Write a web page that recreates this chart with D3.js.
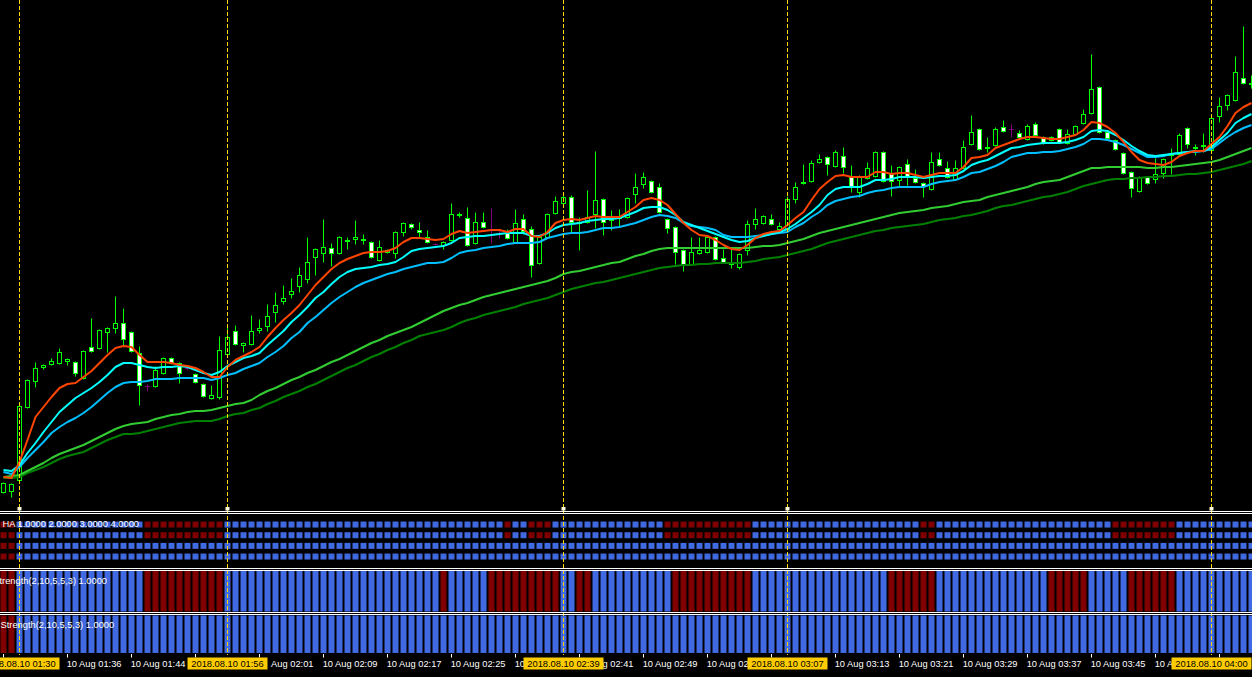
<!DOCTYPE html>
<html><head><meta charset="utf-8">
<script src="https://cdn.jsdelivr.net/npm/d3@7"></script>
<style>html,body{margin:0;padding:0;background:#000;overflow:hidden}</style>
</head><body>
<svg id="c" width="1252" height="677"></svg>
<script>
// ---- data (1-minute bars, 10 Aug 2018) ----
const openP = [5.508,5.509,5.520,5.593,5.619,5.633,5.636,5.637,5.639,5.638,
5.622,5.653,5.652,5.668,5.672,5.677,5.668,5.647,5.614,5.614,
5.627,5.642,5.637,5.632,5.626,5.616,5.602,5.603,5.646,5.669,
5.655,5.656,5.670,5.674,5.688,5.699,5.706,5.714,5.721,5.743,
5.747,5.752,5.747,5.759,5.761,5.760,5.758,5.740,5.748,5.747,
5.768,5.776,5.770,5.763,5.756,5.755,5.760,5.785,5.782,5.757,
5.778,5.770,5.766,5.767,5.758,5.781,5.771,5.737,5.763,5.787,
5.797,5.803,5.777,5.778,5.786,5.801,5.780,5.782,5.783,5.806,
5.816,5.819,5.813,5.781,5.773,5.750,5.736,5.747,5.748,5.763,
5.742,5.736,5.733,5.750,5.776,5.777,5.781,5.771,5.771,5.801,
5.817,5.819,5.838,5.843,5.834,5.844,5.824,5.808,5.822,5.824,
5.848,5.827,5.820,5.836,5.822,5.817,5.811,5.841,5.832,5.821,
5.832,5.856,5.871,5.852,5.855,5.873,5.871,5.867,5.861,5.876,
5.863,5.860,5.871,5.857,5.866,5.877,5.887,5.913,5.868,5.860,
5.847,5.828,5.809,5.823,5.821,5.827,5.845,5.846,5.872,5.852,
5.854,5.850,5.884,5.895,5.900,5.922,5.916];
const highP = [5.518,5.517,5.595,5.621,5.638,5.636,5.642,5.652,5.642,5.639,
5.650,5.682,5.671,5.673,5.704,5.692,5.669,5.654,5.616,5.634,
5.643,5.643,5.638,5.634,5.627,5.617,5.615,5.664,5.673,5.675,
5.658,5.685,5.681,5.696,5.708,5.715,5.722,5.733,5.763,5.752,
5.781,5.757,5.764,5.763,5.780,5.766,5.759,5.760,5.751,5.769,
5.778,5.777,5.778,5.770,5.757,5.759,5.797,5.788,5.793,5.788,
5.788,5.792,5.770,5.771,5.791,5.786,5.774,5.764,5.787,5.804,
5.808,5.805,5.783,5.810,5.849,5.802,5.790,5.791,5.803,5.827,
5.828,5.820,5.817,5.782,5.774,5.751,5.763,5.763,5.764,5.764,
5.751,5.753,5.747,5.780,5.792,5.785,5.786,5.778,5.804,5.818,
5.836,5.840,5.846,5.844,5.850,5.853,5.835,5.825,5.838,5.849,
5.849,5.835,5.834,5.841,5.831,5.818,5.848,5.848,5.839,5.840,
5.860,5.885,5.872,5.863,5.873,5.880,5.876,5.870,5.876,5.878,
5.864,5.864,5.872,5.871,5.875,5.891,5.946,5.914,5.869,5.861,
5.848,5.829,5.824,5.824,5.842,5.842,5.852,5.867,5.873,5.856,
5.867,5.883,5.903,5.906,5.944,5.974,5.925];
const lowP = [5.507,5.503,5.519,5.592,5.613,5.631,5.635,5.636,5.635,5.624,
5.621,5.648,5.651,5.648,5.667,5.655,5.648,5.595,5.609,5.613,
5.626,5.636,5.617,5.630,5.617,5.603,5.601,5.601,5.645,5.655,
5.648,5.655,5.667,5.669,5.678,5.696,5.702,5.708,5.717,5.725,
5.738,5.734,5.746,5.751,5.756,5.756,5.742,5.739,5.747,5.742,
5.764,5.771,5.763,5.757,5.755,5.751,5.759,5.783,5.754,5.756,
5.772,5.757,5.762,5.761,5.757,5.766,5.723,5.736,5.762,5.786,
5.796,5.767,5.750,5.777,5.772,5.765,5.770,5.773,5.782,5.797,
5.812,5.807,5.787,5.767,5.736,5.729,5.735,5.746,5.747,5.740,
5.737,5.732,5.731,5.745,5.771,5.776,5.775,5.770,5.770,5.797,
5.816,5.818,5.837,5.825,5.833,5.827,5.808,5.803,5.821,5.823,
5.818,5.804,5.813,5.815,5.817,5.803,5.810,5.834,5.822,5.820,
5.831,5.855,5.850,5.848,5.854,5.868,5.863,5.862,5.860,5.864,
5.856,5.859,5.857,5.856,5.865,5.876,5.886,5.867,5.861,5.850,
5.826,5.803,5.808,5.816,5.817,5.822,5.826,5.845,5.852,5.845,
5.848,5.849,5.878,5.890,5.899,5.916,5.912];
const closeP = [5.517,5.516,5.594,5.620,5.632,5.635,5.639,5.648,5.641,5.627,
5.649,5.649,5.670,5.672,5.677,5.661,5.649,5.615,5.614,5.630,
5.642,5.637,5.627,5.632,5.618,5.604,5.605,5.650,5.663,5.656,
5.657,5.669,5.672,5.684,5.695,5.702,5.709,5.725,5.738,5.751,
5.753,5.747,5.763,5.760,5.763,5.761,5.743,5.753,5.750,5.768,
5.777,5.773,5.768,5.758,5.756,5.758,5.786,5.786,5.755,5.778,
5.773,5.770,5.766,5.762,5.777,5.769,5.735,5.763,5.786,5.799,
5.803,5.778,5.778,5.783,5.800,5.778,5.783,5.784,5.802,5.813,
5.823,5.808,5.788,5.772,5.748,5.736,5.748,5.750,5.763,5.741,
5.738,5.737,5.746,5.776,5.781,5.784,5.776,5.774,5.801,5.813,
5.818,5.837,5.841,5.836,5.848,5.833,5.813,5.824,5.832,5.848,
5.819,5.819,5.833,5.823,5.818,5.814,5.838,5.835,5.823,5.832,
5.853,5.868,5.851,5.853,5.871,5.869,5.871,5.863,5.874,5.865,
5.857,5.863,5.858,5.866,5.874,5.886,5.911,5.868,5.862,5.851,
5.827,5.812,5.823,5.817,5.826,5.841,5.847,5.865,5.856,5.853,
5.855,5.882,5.894,5.905,5.928,5.917,5.917];

// moving averages
const maOrange = [5.523,5.522,5.538,5.560,5.583,5.593,5.603,5.612,5.616,5.617,
5.623,5.629,5.637,5.645,5.652,5.654,5.653,5.645,5.638,5.638,
5.638,5.637,5.635,5.634,5.632,5.628,5.623,5.623,5.633,5.640,
5.644,5.648,5.653,5.663,5.672,5.680,5.687,5.695,5.705,5.715,
5.723,5.731,5.737,5.741,5.744,5.747,5.748,5.748,5.749,5.752,
5.758,5.762,5.762,5.761,5.760,5.761,5.766,5.769,5.767,5.768,
5.769,5.770,5.770,5.768,5.771,5.771,5.764,5.763,5.768,5.777,
5.780,5.781,5.780,5.782,5.784,5.783,5.783,5.783,5.788,5.793,
5.800,5.802,5.800,5.795,5.786,5.777,5.770,5.765,5.764,5.760,
5.755,5.751,5.750,5.755,5.762,5.766,5.768,5.769,5.775,5.782,
5.788,5.800,5.811,5.818,5.824,5.825,5.823,5.823,5.823,5.828,
5.828,5.826,5.827,5.827,5.825,5.823,5.825,5.827,5.827,5.827,
5.833,5.842,5.843,5.845,5.852,5.855,5.858,5.861,5.863,5.863,
5.862,5.861,5.861,5.863,5.865,5.870,5.878,5.877,5.873,5.867,
5.858,5.848,5.840,5.837,5.836,5.835,5.838,5.844,5.847,5.849,
5.849,5.856,5.863,5.874,5.887,5.893,5.897];
const maCyan = [5.530,5.529,5.535,5.547,5.557,5.568,5.578,5.588,5.595,5.602,
5.607,5.612,5.618,5.625,5.633,5.637,5.637,5.635,5.633,5.632,
5.633,5.633,5.634,5.633,5.630,5.627,5.625,5.628,5.634,5.638,
5.642,5.644,5.647,5.655,5.662,5.669,5.678,5.685,5.693,5.702,
5.708,5.716,5.723,5.728,5.731,5.732,5.733,5.735,5.736,5.738,
5.743,5.749,5.751,5.752,5.753,5.754,5.757,5.762,5.763,5.764,
5.764,5.765,5.766,5.767,5.767,5.767,5.764,5.764,5.767,5.772,
5.775,5.776,5.777,5.779,5.780,5.781,5.781,5.782,5.785,5.788,
5.792,5.793,5.793,5.790,5.785,5.778,5.775,5.772,5.769,5.766,
5.763,5.760,5.758,5.759,5.762,5.764,5.766,5.768,5.771,5.776,
5.782,5.788,5.795,5.805,5.811,5.813,5.813,5.813,5.816,5.820,
5.820,5.821,5.823,5.823,5.823,5.822,5.823,5.824,5.824,5.825,
5.829,5.835,5.838,5.840,5.844,5.848,5.852,5.853,5.855,5.856,
5.857,5.857,5.857,5.858,5.860,5.863,5.869,5.870,5.869,5.865,
5.860,5.854,5.849,5.845,5.844,5.845,5.846,5.847,5.848,5.849,
5.849,5.853,5.860,5.867,5.877,5.882,5.886];
const maBlue = [5.528,5.526,5.533,5.542,5.550,5.558,5.567,5.573,5.578,5.582,
5.587,5.593,5.600,5.607,5.613,5.617,5.618,5.618,5.619,5.621,
5.621,5.621,5.622,5.622,5.622,5.622,5.620,5.622,5.625,5.627,
5.631,5.634,5.637,5.643,5.648,5.654,5.662,5.668,5.677,5.683,
5.690,5.697,5.703,5.708,5.713,5.717,5.720,5.723,5.726,5.728,
5.731,5.733,5.735,5.737,5.737,5.738,5.742,5.747,5.749,5.750,
5.752,5.753,5.754,5.756,5.757,5.757,5.757,5.758,5.762,5.764,
5.766,5.767,5.767,5.768,5.770,5.772,5.772,5.773,5.775,5.777,
5.780,5.783,5.785,5.784,5.782,5.777,5.774,5.773,5.772,5.770,
5.765,5.763,5.763,5.763,5.764,5.765,5.766,5.767,5.768,5.773,
5.777,5.783,5.788,5.795,5.799,5.801,5.803,5.804,5.807,5.809,
5.810,5.812,5.813,5.813,5.813,5.813,5.816,5.818,5.819,5.820,
5.823,5.827,5.828,5.831,5.834,5.838,5.843,5.845,5.847,5.847,
5.848,5.848,5.849,5.851,5.853,5.856,5.861,5.861,5.860,5.858,
5.855,5.851,5.847,5.843,5.843,5.844,5.846,5.847,5.848,5.848,
5.849,5.851,5.857,5.863,5.868,5.872,5.875];
const maLime = [5.523,5.524,5.525,5.529,5.533,5.537,5.542,5.546,5.549,5.552,
5.555,5.559,5.563,5.567,5.571,5.574,5.576,5.577,5.578,5.581,
5.583,5.585,5.586,5.588,5.589,5.589,5.590,5.592,5.594,5.596,
5.597,5.600,5.605,5.609,5.612,5.616,5.620,5.623,5.627,5.630,
5.634,5.638,5.641,5.645,5.649,5.653,5.657,5.660,5.664,5.667,
5.670,5.673,5.677,5.681,5.685,5.689,5.692,5.695,5.697,5.700,
5.703,5.705,5.707,5.709,5.711,5.713,5.715,5.717,5.719,5.722,
5.726,5.728,5.729,5.731,5.733,5.735,5.737,5.738,5.741,5.744,
5.746,5.749,5.751,5.752,5.752,5.752,5.752,5.752,5.752,5.752,
5.752,5.752,5.752,5.752,5.753,5.754,5.754,5.755,5.757,5.759,
5.761,5.764,5.767,5.769,5.771,5.773,5.775,5.777,5.779,5.781,
5.783,5.785,5.787,5.788,5.789,5.790,5.792,5.793,5.794,5.796,
5.798,5.799,5.800,5.803,5.805,5.807,5.809,5.811,5.813,5.816,
5.818,5.819,5.820,5.823,5.826,5.829,5.832,5.832,5.833,5.833,
5.833,5.833,5.833,5.832,5.832,5.833,5.833,5.834,5.835,5.836,
5.837,5.838,5.840,5.843,5.846,5.849,5.852];
const maGreen = [5.522,5.522,5.523,5.527,5.530,5.533,5.537,5.541,5.544,5.546,
5.548,5.552,5.556,5.560,5.563,5.566,5.566,5.567,5.569,5.571,
5.573,5.575,5.577,5.578,5.579,5.579,5.579,5.581,5.584,5.586,
5.587,5.590,5.592,5.596,5.599,5.603,5.606,5.609,5.613,5.616,
5.620,5.624,5.628,5.632,5.635,5.639,5.643,5.646,5.650,5.653,
5.657,5.660,5.664,5.666,5.668,5.670,5.673,5.677,5.680,5.682,
5.685,5.687,5.689,5.691,5.693,5.696,5.698,5.700,5.702,5.705,
5.708,5.711,5.713,5.715,5.717,5.718,5.720,5.722,5.724,5.726,
5.728,5.730,5.732,5.733,5.734,5.735,5.735,5.736,5.736,5.737,
5.737,5.737,5.737,5.738,5.739,5.741,5.742,5.743,5.745,5.747,
5.749,5.751,5.754,5.757,5.759,5.761,5.763,5.765,5.767,5.769,
5.770,5.772,5.773,5.774,5.775,5.776,5.778,5.780,5.781,5.782,
5.784,5.785,5.787,5.789,5.792,5.794,5.795,5.797,5.799,5.801,
5.803,5.804,5.806,5.808,5.811,5.814,5.816,5.818,5.820,5.821,
5.821,5.822,5.822,5.823,5.823,5.824,5.824,5.825,5.826,5.826,
5.827,5.828,5.830,5.832,5.834,5.836,5.839];

// indicator states per bar: B = up (blue), R = down (red)
const haUpperRows = "RRBBBBBBBB"+"BBBBBBBBRR"+"RRRRRRRRBB"+"BBBBBBBBBB"+"BBBBBBBBBB"+"BBBBBBBBBB"+"BBBRBBRRRB"+"BBBBBBBBBB"+"BBBRRRRRRR"+"RRRRBBBBBB"+"BBBBBBBBBB"+"BBBBBRRBBB"+"BBBBBBBBBB"+"BBBBBBBBBR"+"RRRRRRRBBB"+"BBBBBBB";
const haLowerRows = "RRBBBBBBBB"+"BBBBBBBBBB"+"BBBBBBBBBB"+"BBBBBBBBBB"+"BBBBBBBBBB"+"BBBBBBBBBB"+"BBBBBBBBBB"+"BBBBBBBBBB"+"BBBBBBBBBB"+"BBBBBBBBBB"+"BBBBBBBBBB"+"BBBBBBBBBB"+"BBBBBBBBBB"+"BBBBBBBBBB"+"BBBBBBBBBB"+"BBBBBBB";
const strength1 = "RRBBBBBBBB"+"BBBBBBBBRR"+"RRRRRRRRBB"+"BBBBBBBBBB"+"BBBBBBBBBB"+"BBBBBRBBBB"+"BRRRRRRRRR"+"BBRRBBBBBB"+"BBBBRRRRRR"+"RRRRBBBBBB"+"BBBBBBBBBB"+"BRRRRRRBBB"+"BBBBBBBBBB"+"BRRRRRBBBB"+"BRRRRRRBBB"+"BBBBBBB";
const strength2 = "RRBBBBBBBB"+"BBBBBBBBBB"+"BBBBBBBBBB"+"BBBBBBBBBB"+"BBBBBBBBBB"+"BBBBBBBBBB"+"BBBBBBBBBB"+"BBBBBBBBBB"+"BBBBBBBBBB"+"BBBBBBBBBB"+"BBBBBBBBBB"+"BBBBBBBBBB"+"BBBBBBBBBB"+"BBBBBBBBBB"+"BBBBBBBBBB"+"BBBBBBB";
const haLevels = [4, 3, 2, 1];
const strengthValue = 1.0;

const tickEvery = 8;
const tickLabels = ["10 Aug 01:28","10 Aug 01:36","10 Aug 01:44","10 Aug 01:52","10 Aug 02:01",
"10 Aug 02:09","10 Aug 02:17","10 Aug 02:25","10 Aug 02:33","10 Aug 02:41","10 Aug 02:49",
"10 Aug 02:57","10 Aug 03:05","10 Aug 03:13","10 Aug 03:21","10 Aug 03:29","10 Aug 03:37",
"10 Aug 03:45","10 Aug 03:53","10 Aug 04:01"];
const vlineBars = [2, 28, 70, 98, 151];
const vlineLabels = ["2018.08.10 01:30","2018.08.10 01:56","2018.08.10 02:39","2018.08.10 03:07","2018.08.10 04:00"];

// ---- drawing ----
const W = 1252, H = 677, N = openP.length;
const FONT = "'Liberation Sans', Arial, sans-serif";
const svg = d3.select("#c");
svg.append("rect").attr("width", W).attr("height", H).attr("fill", "#000");

const x = d3.scaleLinear().domain([0, 1]).range([3.5, 11.5]);   // bar centre
const y = d3.scaleLinear().domain([5.490, 6.000]).range([510, 0]);

const defs = svg.append("defs");
defs.append("clipPath").attr("id", "mainClip").append("rect").attr("x", 0).attr("y", 0).attr("width", W).attr("height", 510);

const main = svg.append("g").attr("clip-path", "url(#mainClip)");
const bars = d3.range(N).map(i => ({i, o: openP[i], h: highP[i], l: lowP[i], c: closeP[i]}));

const snap = v => Math.round(v) + 0.5;
const LIME = "#00ff00";

// wicks
main.append("g").selectAll("line").data(bars).join("line")
  .attr("x1", d => x(d.i)).attr("x2", d => x(d.i))
  .attr("y1", d => snap(y(d.h))).attr("y2", d => snap(y(d.l)))
  .attr("stroke", d => d.o === d.c ? "#800080" : LIME).attr("stroke-width", 1);

// bodies
const bodies = bars.filter(d => d.o !== d.c);
main.append("g").selectAll("rect").data(bodies).join("rect")
  .attr("x", d => x(d.i) - 2)
  .attr("y", d => snap(y(Math.max(d.o, d.c))))
  .attr("width", 4)
  .attr("height", d => Math.max(0, snap(y(Math.min(d.o, d.c))) - snap(y(Math.max(d.o, d.c)))))
  .attr("fill", d => d.c > d.o ? "#000" : "#fff")
  .attr("stroke", LIME).attr("stroke-width", 1);
// doji
main.append("g").selectAll("line").data(bars.filter(d => d.o === d.c)).join("line")
  .attr("x1", d => x(d.i) - 2.5).attr("x2", d => x(d.i) + 2.5)
  .attr("y1", d => snap(y(d.o))).attr("y2", d => snap(y(d.o)))
  .attr("stroke", "#800080").attr("stroke-width", 1);

// moving averages
const line = d3.line().x((d, i) => x(i)).y(d => y(d));
[[maGreen, "#008000"], [maLime, "#32cd32"], [maBlue, "#00bfff"], [maCyan, "#00ffff"], [maOrange, "#ff4500"]]
  .forEach(([arr, col]) => {
    main.append("path").datum(arr).attr("d", line).attr("fill", "none")
      .attr("stroke", col).attr("stroke-width", 2).attr("stroke-linejoin", "round");
  });

// ---- HA panel ----
const RED = "#800000", BLUE = "#4169e1";
const haY = d3.scaleLinear().domain([0, 5]).range([567.2, 513.9]);
const haCells = [];
haLevels.forEach(v => {
  const s = v >= 3 ? haUpperRows : haLowerRows;
  for (let i = 0; i < N; i++) haCells.push({i, v, col: s[i] === "R" ? RED : BLUE});
});
svg.append("g").selectAll("rect").data(haCells).join("rect")
  .attr("x", d => x(d.i) - 3).attr("y", d => haY(d.v) - 3)
  .attr("width", 6).attr("height", 6).attr("fill", d => d.col);

// ---- Strength panels ----
function histPanel(str, top, bottom) {
  const sy = d3.scaleLinear().domain([0, 1]).range([bottom, top]);
  svg.append("g").selectAll("rect").data(d3.range(N)).join("rect")
    .attr("x", i => x(i) - 3).attr("y", sy(strengthValue))
    .attr("width", 6).attr("height", sy(0) - sy(strengthValue))
    .attr("fill", i => str[i] === "R" ? RED : BLUE);
}
histPanel(strength1, 571, 611.5);
histPanel(strength2, 615.5, 653);

// vertical dashed lines
svg.append("g").selectAll("line").data(vlineBars).join("line")
  .attr("x1", d => x(d)).attr("x2", d => x(d)).attr("y1", 0).attr("y2", 655)
  .attr("stroke", "#ffd700").attr("stroke-width", 1).attr("stroke-dasharray", "4,2");
svg.append("g").selectAll("rect").data(vlineBars).join("rect")
  .attr("x", d => x(d) - 2).attr("y", 507).attr("width", 4).attr("height", 3.5)
  .attr("fill", "#fffbe0");

// panel separators
[511.5, 513.5, 568.5, 570.5, 612.5, 614.5].forEach(yy => {
  svg.append("line").attr("x1", 0).attr("x2", W).attr("y1", yy).attr("y2", yy)
    .attr("stroke", "#fff").attr("stroke-width", 1);
});

// indicator labels
const lab = (t, xx, yy) => svg.append("text").attr("x", xx).attr("y", yy).text(t)
  .attr("fill", "#fff").attr("font-family", FONT).attr("font-size", "9.3px");
lab("HA 1.0000 2.0000 3.0000 4.0000", 2.5, 526.5);
lab("trength(2,10,5,5,3) 1.0000", -0.5, 584);
lab("Strength(2,10,5,5,3) 1.0000", 0.5, 627.5);

// ---- time axis ----
const boxes = vlineBars.map((b, k) => ({b, t: vlineLabels[k], x0: x(b) - 40, x1: x(b) + 40}));
const ticks = tickLabels.map((t, j) => ({bar: j * tickEvery, t}));
const ax = svg.append("g");
ax.selectAll("line").data(ticks).join("line")
  .attr("x1", d => x(d.bar)).attr("x2", d => x(d.bar)).attr("y1", 654).attr("y2", 657.5)
  .attr("stroke", "#fff");
ax.selectAll("text").data(ticks).join("text")
  .attr("x", d => x(d.bar) - 0.8).attr("y", 667)
  .attr("fill", "#fff").attr("font-family", FONT).attr("font-size", "9.3px").text(d => d.t)
  .each(function (d) {
    // keep only the part of the label that is not covered by a date box
    const n = d.t.length, vis = [];
    for (let k = 0; k < n; k++) {
      const sx = this.getStartPositionOfChar(k).x, ex = this.getEndPositionOfChar(k).x;
      const cx = (sx + ex) / 2;
      const hidden = boxes.some(b => cx > b.x0 && cx < b.x1 + 1) || cx > W;
      if (!hidden) vis.push(k);
    }
    if (!vis.length) { d3.select(this).remove(); return; }
    let a = vis[0], z = vis[vis.length - 1];
    while (a <= z && d.t[a] === " ") a++;
    while (z >= a && d.t[z] === " ") z--;
    if (a > z) { d3.select(this).remove(); return; }
    const sx = this.getStartPositionOfChar(a).x;
    d3.select(this).attr("x", sx).text(d.t.slice(a, z + 1));
  });

const hl = svg.append("g").selectAll("g").data(boxes).join("g");
hl.append("rect").attr("x", d => d.x0).attr("y", 657.5).attr("width", 80).attr("height", 12)
  .attr("fill", "#ffcc00");
hl.append("text").attr("x", d => x(d.b)).attr("y", 667).attr("text-anchor", "middle")
  .attr("fill", "#000").attr("font-family", FONT).attr("font-size", "9.3px").text(d => d.t);
</script>
</body></html>
